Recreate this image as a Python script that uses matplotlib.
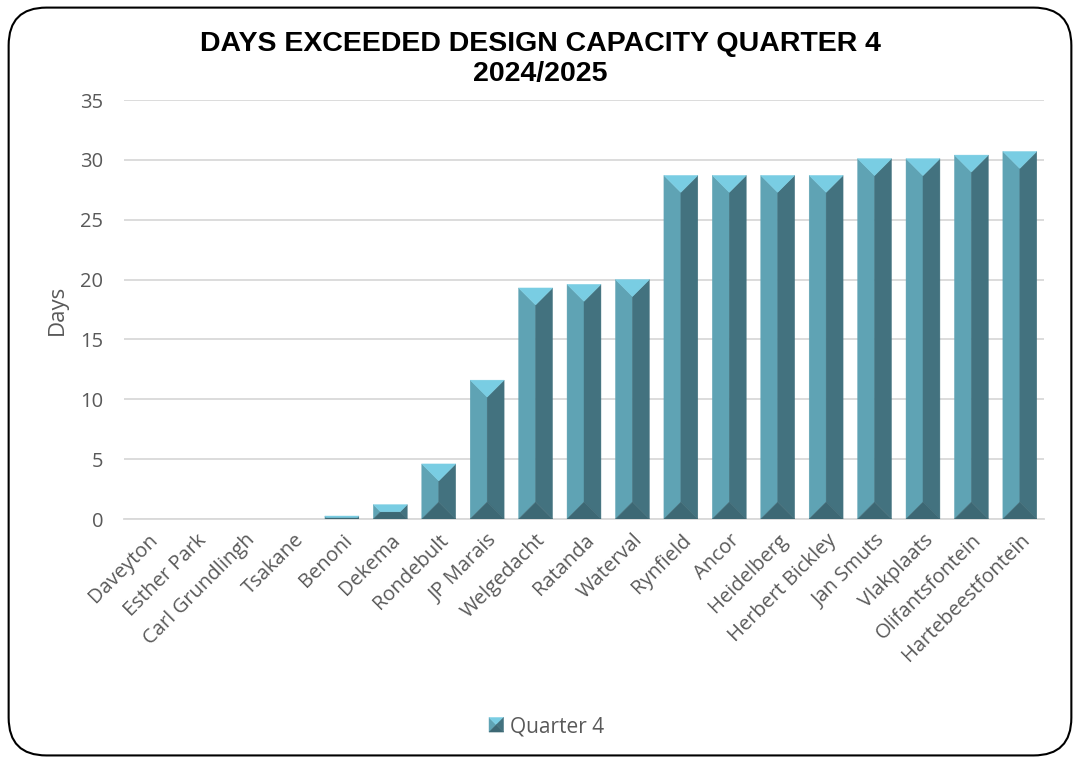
import matplotlib.pyplot as plt
import numpy as np
from matplotlib.patches import Polygon, FancyBboxPatch
from matplotlib.legend_handler import HandlerBase

plants = ["Daveyton", "Esther Park", "Carl Grundlingh", "Tsakane", "Benoni",
          "Dekema", "Rondebult", "JP Marais", "Welgedacht", "Ratanda",
          "Waterval", "Rynfield", "Ancor", "Heidelberg", "Herbert Bickley",
          "Jan Smuts", "Vlakplaats", "Olifantsfontein", "Hartebeestfontein"]
days_q4 = [0, 0, 0, 0, 0.25, 1.2, 4.6, 11.6, 19.3, 19.6, 20.0,
           28.7, 28.7, 28.7, 28.7, 30.1, 30.1, 30.4, 30.7]

series_name = "Quarter 4"
title = "DAYS EXCEEDED DESIGN CAPACITY QUARTER 4\n2024/2025"

# bevel face colours
c_top = "#79cde3"
c_left = "#5fa3b4"
c_right = "#43727f"
c_bottom = "#3d6874"
grey = "#595959"

plt.rcParams['font.family'] = ['Open Sans', 'DejaVu Sans']

W, H = 10.8, 7.6
fig = plt.figure(figsize=(W, H), dpi=100)
ax = fig.add_axes([0.1148, 0.3171, 0.8519, 0.5513])

ymax = 35
ax.set_xlim(-0.5, len(plants) - 0.5)
ax.set_ylim(0, ymax)

bw = 0.7
# pixels per data unit, so bevels keep 45 degree corners
px_x = 0.8519 * W * 100 / len(plants)
px_y = 0.5513 * H * 100 / ymax


def bevel_faces(x0, x1, y0, y1, dx, dy):
    # four faces of a bevelled box: top, left, right, bottom
    xm = (x0 + x1) / 2
    top = [(x0, y1), (x1, y1), (x1 - dx, y1 - dy), (x0 + dx, y1 - dy)]
    left = [(x0, y0), (x0, y1), (x0 + dx, y1 - dy), (x0 + dx, y0 + dy)]
    right = [(x1, y0), (x1, y1), (x1 - dx, y1 - dy), (x1 - dx, y0 + dy)]
    bottom = [(x0, y0), (x1, y0), (x1 - dx, y0 + dy), (x0 + dx, y0 + dy)]
    # fill centre column: left half lighter, right half darker
    lmid = [(x0 + dx, y0 + dy), (x0 + dx, y1 - dy), (xm, y1 - dy), (xm, y0 + dy)]
    rmid = [(xm, y0 + dy), (xm, y1 - dy), (x1 - dx, y1 - dy), (x1 - dx, y0 + dy)]
    return [(lmid, c_left), (rmid, c_right), (left, c_left), (right, c_right),
            (bottom, c_bottom), (top, c_top)]


for i, v in enumerate(days_q4):
    if v <= 0:
        continue
    x0, x1 = i - bw / 2, i + bw / 2
    depth_px = min(bw * px_x / 2, v * px_y / 2)
    dx = depth_px / px_x
    dy = depth_px / px_y
    for pts, col in bevel_faces(x0, x1, 0, v, dx, dy):
        ax.add_patch(Polygon(pts, closed=True, facecolor=col, edgecolor=col,
                             lw=0.3, zorder=3))

ax.set_yticks(np.arange(0, ymax + 1, 5))
ax.yaxis.grid(True, color="#d9d9d9", lw=1.3)
ax.set_axisbelow(True)
for s in ["top", "right", "left"]:
    ax.spines[s].set_visible(False)
ax.spines["bottom"].set_color("#d9d9d9")
ax.spines["bottom"].set_linewidth(1.3)
ax.tick_params(length=0, colors=grey, labelsize=14.5)
ax.tick_params(axis="y", pad=15)
ax.set_xticks(range(len(plants)))
ax.set_xticklabels(plants, rotation=45, ha="right", rotation_mode="anchor")
ax.tick_params(axis="x", pad=8)
ax.set_ylabel("Days", color=grey, fontsize=16, labelpad=9)

fig.text(0.5, 0.922, title, ha="center", va="center", fontsize=20.5,
         fontweight="bold", family=["Liberation Sans", "DejaVu Sans"],
         linespacing=1.2)


class BevelHandler(HandlerBase):
    def create_artists(self, legend, orig, xd, yd, width, height, fontsize, trans):
        s = height * 1.0
        x0 = xd + (width - s) / 2
        y0 = yd + (height - s) / 2
        x1, y1 = x0 + s, y0 + s
        xm, ym = (x0 + x1) / 2, (y0 + y1) / 2
        tri = [([(x0, y0), (x0, y1), (xm, ym)], c_left),
               ([(x0, y1), (x1, y1), (xm, ym)], c_top),
               ([(x1, y1), (x1, y0), (xm, ym)], c_right),
               ([(x1, y0), (x0, y0), (xm, ym)], c_bottom)]
        return [Polygon(p, closed=True, facecolor=c, edgecolor=c, lw=0.3,
                        transform=trans) for p, c in tri]


proxy = Polygon([(0, 0)], label=series_name)
leg = fig.legend([proxy], [series_name], handler_map={Polygon: BevelHandler()},
                 loc="center", bbox_to_anchor=(0.506, 0.044), frameon=False,
                 fontsize=15, handlelength=0.7, handletextpad=0.3)
for t in leg.get_texts():
    t.set_color(grey)

# rounded chart border
fig.patches.append(FancyBboxPatch((0.008, 0.006), 0.984, 0.984,
                                  boxstyle="round,pad=0,rounding_size=0.035",
                                  transform=fig.transFigure, fill=False,
                                  edgecolor="black", lw=1.5,
                                  mutation_aspect=W / H))

fig.savefig("out.png", dpi=100)
